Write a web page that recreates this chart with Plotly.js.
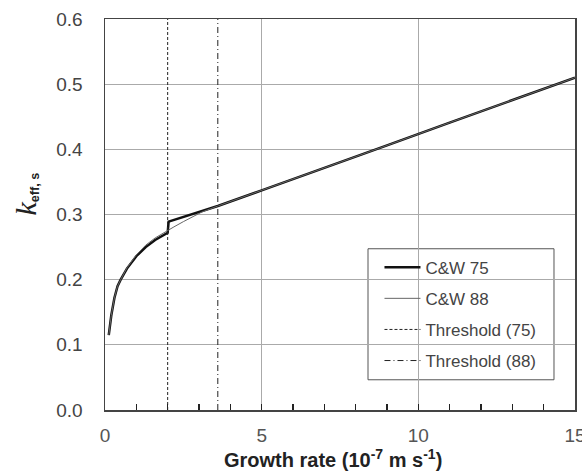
<!DOCTYPE html>
<html>
<head>
<meta charset="utf-8">
<script src="https://cdn.plot.ly/plotly-3.0.1.min.js"></script>
<style>html,body{margin:0;padding:0;background:#fff;}#chart{width:582px;height:471px;}</style>
</head>
<body>
<div id="chart"></div>
<script>
// Growth rate (1e-7 m/s) and k_eff,s values
const x75 = [0.12, 0.2, 0.3, 0.4, 0.5, 0.7, 1.0, 1.3, 1.6, 1.9, 2.0, 2.03, 2.5, 3.0, 3.6, 5, 7, 9, 11, 13, 15];
const y75 = [0.115, 0.145, 0.172, 0.19, 0.2, 0.217, 0.236, 0.25, 0.261, 0.27, 0.272, 0.289, 0.296, 0.303, 0.313, 0.337, 0.371, 0.406, 0.441, 0.476, 0.51];
const x88 = [0.12, 0.2, 0.3, 0.4, 0.5, 0.7, 1.0, 1.3, 1.6, 1.9, 2.2, 2.5, 2.8, 3.1, 3.6, 5, 7, 9, 11, 13, 15];
const y88 = [0.115, 0.145, 0.172, 0.19, 0.2, 0.218, 0.238, 0.253, 0.264, 0.273, 0.281, 0.289, 0.297, 0.304, 0.313, 0.337, 0.371, 0.406, 0.441, 0.476, 0.51];
const threshold75 = 2.0;
const threshold88 = 3.6;
const xRange = [0, 15];
const yRange = [0, 0.6];
const seriesNames = ["C&amp;W 75", "C&amp;W 88", "Threshold (75)", "Threshold (88)"];
const xMajorStep = 5;
const xMinorStep = 1;
const yStep = 0.1;
const xTitle = "<b>Growth rate (10<sup>-7</sup> m s<sup>-1</sup>)</b>";
const yTitle = "<span style=\"font-family:'Liberation Serif';font-style:italic;font-size:30px\">k</span><sub><b>eff, s</b></sub>";

const FONT = "Liberation Sans, Arial, sans-serif";

const traces = [
  {x: x75, y: y75, mode: "lines", name: seriesNames[0], legendgroup: "a",
   line: {color: "#111", width: 2.5}},
  {x: x88, y: y88, mode: "lines", name: seriesNames[1], legendgroup: "b",
   line: {color: "#666", width: 1}},
  {x: [threshold75, threshold75], y: yRange, mode: "lines", name: seriesNames[2], legendgroup: "c",
   line: {color: "#222", width: 1, dash: "3px,2px"}},
  {x: [threshold88, threshold88], y: yRange, mode: "lines", name: seriesNames[3], legendgroup: "d",
   line: {color: "#222", width: 1, dash: "6px,3px,1px,3px"}}
];

const layout = {
  width: 582, height: 471,
  margin: {l: 105, r: 7, t: 19, b: 61},
  paper_bgcolor: "#fff", plot_bgcolor: "#fff",
  font: {family: FONT, color: "#333", size: 13},
  showlegend: true,
  legend: {
    x: 0.584, y: 0.41, xanchor: "left", yanchor: "top",
    bgcolor: "rgba(0,0,0,0)", borderwidth: 0,
    traceorder: "grouped", tracegroupgap: 6,
    itemwidth: 36,
    font: {family: FONT, size: 17, color: "#444"}
  },
  xaxis: {
    range: xRange, tickmode: "linear", tick0: 0, dtick: xMajorStep,
    showgrid: true, gridcolor: "#aaa", gridwidth: 1,
    zeroline: false, showline: true, linecolor: "#444", linewidth: 1.5, mirror: true,
    ticks: "inside", ticklen: 6, tickwidth: 1.5, tickcolor: "#222", ticklabelstandoff: 8,
    ticklabeloverflow: "allow",
    tickfont: {family: FONT, size: 19, color: "#555"},
    minor: {dtick: xMinorStep, ticks: "inside", ticklen: 6, tickwidth: 1.5, tickcolor: "#222", showgrid: false}
  },
  yaxis: {
    range: yRange, tickmode: "linear", tick0: 0, dtick: yStep, tickformat: ".1f",
    showgrid: true, gridcolor: "#aaa", gridwidth: 1,
    zeroline: false, showline: true, linecolor: "#444", linewidth: 1.5, mirror: true,
    ticks: "outside", ticklen: 17, tickcolor: "rgba(0,0,0,0)",
    tickfont: {family: FONT, size: 19, color: "#444"}
  },
  annotations: [
    {text: xTitle, xref: "paper", yref: "paper", x: 0.485, y: 0, xanchor: "center", yanchor: "middle",
     yshift: -48, showarrow: false, font: {family: FONT, size: 20, color: "#222"}},
    {text: yTitle, xref: "paper", yref: "paper", x: 0, y: 0.5, xanchor: "center", yanchor: "middle",
     xshift: -80, yshift: 20, textangle: -90, showarrow: false, font: {family: FONT, size: 18, color: "#222"}}
  ],
  shapes: [
    {type: "rect", xref: "paper", yref: "paper", x0: 0.5596, x1: 0.9553, y0: 0.0773, y1: 0.4124,
     line: {color: "#555", width: 1}, fillcolor: "#fff", layer: "below"}
  ]
};

Plotly.newPlot("chart", traces, layout, {displayModeBar: false, staticPlot: true});
</script>
</body>
</html>
